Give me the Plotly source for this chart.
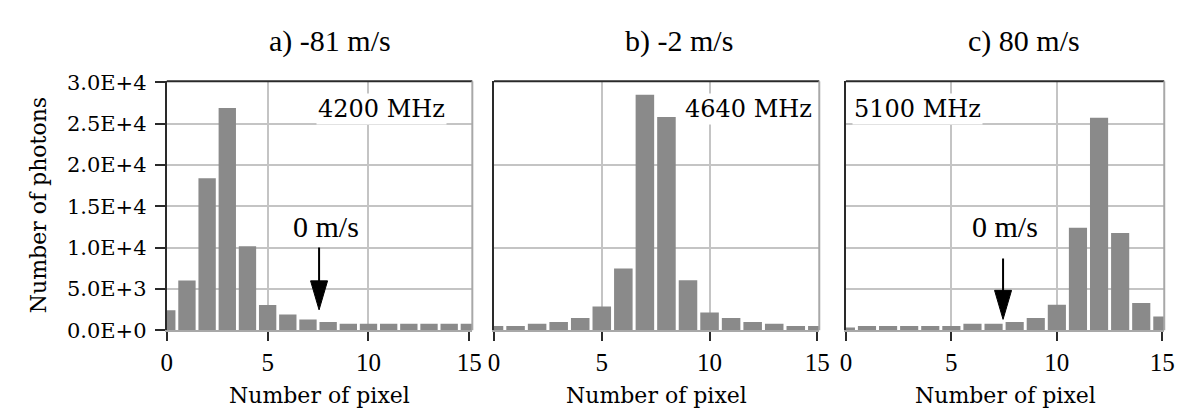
import plotly.graph_objects as go

# ---------------- data ----------------
pixels = list(range(16))
counts_a = [2400, 6000, 18400, 26900, 10150, 3050, 1900, 1280, 1000, 780, 780, 780, 780, 780, 780, 780]
counts_b = [510, 510, 780, 1000, 1470, 2880, 7450, 28500, 25800, 6050, 2150, 1470, 1000, 780, 510, 510]
counts_c = [320, 510, 510, 510, 510, 510, 780, 780, 1000, 1470, 3070, 12400, 25700, 11750, 3300, 1660]

panel_titles = ["a) -81 m/s", "b) -2 m/s", "c) 80 m/s"]
freq_labels = ["4200 MHz", "4640 MHz", "5100 MHz"]
x_tick_vals = [0, 5, 10, 15]
y_tick_vals = [0, 5000, 10000, 15000, 20000, 25000, 30000]
y_tick_text = ["0.0E+0", "5.0E+3", "1.0E+4", "1.5E+4", "2.0E+4", "2.5E+4", "3.0E+4"]
x_title = "Number of pixel"
y_title = "Number of photons"
zero_label = "0 m/s"

# ---------------- layout helpers ----------------
W, H = 1184, 414
def fx(px):
    return px / W
def fy(py):
    return 1 - py / H

x_dom_px = [(155, 465), (487, 817), (844, 1167)]
x_rng = [[0, 15.147], [0, 15.09], [0, 15.09]]
y_dom = [fy(329.5), fy(66)]
y_rng = [0, 30114]
grid_y = [[5000, 10000, 15000, 20000, 25000], [10000, 20000], [5000, 10000, 15000, 20000, 25000]]
title_cx = [321, 675, 1025]
freq_cx = [373, 745, 917]

BAR = "#8a8a8a"
GRID = "#c4c4c4"
DARK = "#2a2a2a"
LIGHT = "#a8a8a8"

fig = go.Figure()
series = [counts_a, counts_b, counts_c]
for i, vals in enumerate(series):
    sfx = "" if i == 0 else str(i + 1)
    fig.add_trace(go.Bar(
        x=pixels, y=vals, width=0.86,
        marker=dict(color=BAR, line=dict(width=0)),
        xaxis="x" + sfx, yaxis="y" + sfx, showlegend=False, hoverinfo="x+y",
    ))

layout = dict(
    width=W, height=H, autosize=False,
    margin=dict(l=0, r=0, t=0, b=0),
    paper_bgcolor="white", plot_bgcolor="white",
    font=dict(family="DejaVu Serif", color="black", size=20),
    bargap=0.14,
)

shapes = []
annotations = []
for i in range(3):
    sfx = "" if i == 0 else str(i + 1)
    x0, x1 = x_dom_px[i]
    layout["xaxis" + sfx] = dict(
        domain=[fx(x0), fx(x1)], range=x_rng[i], anchor="y" + sfx,
        tickmode="array", tickvals=x_tick_vals, ticktext=[str(v) for v in x_tick_vals],
        ticks="outside", ticklen=9, tickwidth=2, tickcolor=DARK,
        showgrid=False, zeroline=False,
        showline=True, linecolor=LIGHT, linewidth=2,
        tickfont=dict(family="Liberation Serif", size=25, color="black"),
        ticklabelstandoff=0,
        minor=dict(tickmode="array", tickvals=[5, 10], showgrid=True, gridcolor=GRID, gridwidth=2, ticks=""),
        fixedrange=True,
    )
    ydict = dict(
        domain=y_dom, range=y_rng, anchor="x" + sfx,
        showgrid=False, zeroline=False,
        showline=True, linecolor=DARK, linewidth=2,
        minor=dict(tickmode="array", tickvals=grid_y[i], showgrid=True, gridcolor=GRID, gridwidth=2, ticks=""),
        fixedrange=True,
    )
    if i == 0:
        ydict.update(
            tickmode="array", tickvals=y_tick_vals, ticktext=y_tick_text,
            ticks="outside", ticklen=10, tickwidth=2, tickcolor=DARK,
            tickfont=dict(family="DejaVu Serif", size=21, color="black"),
            ticklabelstandoff=4,
        )
    else:
        ydict.update(showticklabels=False, ticks="")
    layout["yaxis" + sfx] = ydict

    # top (dark) and right (light) frame lines
    shapes.append(dict(type="line", xref="x" + sfx + " domain", yref="y" + sfx + " domain",
                       x0=0, x1=1, y0=1, y1=1, line=dict(color=DARK, width=2), layer="above"))
    shapes.append(dict(type="line", xref="x" + sfx + " domain", yref="y" + sfx + " domain",
                       x0=1, x1=1, y0=0, y1=1, line=dict(color=LIGHT, width=2), layer="above"))

    # panel title
    annotations.append(dict(text=panel_titles[i], xref="paper", yref="paper",
                            x=fx(title_cx[i]), y=fy(23), xanchor="center", yanchor="middle",
                            showarrow=False, font=dict(family="Liberation Serif", size=30, color="black")))
    # frequency label with white box
    annotations.append(dict(text=freq_labels[i], xref="paper", yref="paper",
                            x=fx(freq_cx[i]), y=fy(95), xanchor="center", yanchor="middle",
                            showarrow=False, bgcolor="white", borderpad=1,
                            font=dict(family="DejaVu Serif", size=24, color="black")))
    # x axis title
    annotations.append(dict(text=x_title, xref="paper", yref="paper",
                            x=fx((x0 + x1) / 2), y=fy(399), xanchor="center", yanchor="middle",
                            showarrow=False, font=dict(family="DejaVu Serif", size=22, color="black")))

# y axis title
annotations.append(dict(text=y_title, xref="paper", yref="paper", x=fx(25), y=fy(197.5),
                        xanchor="center", yanchor="middle", textangle=-90, showarrow=False,
                        font=dict(family="DejaVu Serif", size=22, color="black")))

# "0 m/s" markers in panels a and c: (axis suffix, text x, arrow x, tail y, tip y)
zero_marks = [("", 7.9, 7.55, 10200, 2460), ("3", 7.52, 7.45, 8860, 1310)]
for sfx, tx, axx, tail, tip in zero_marks:
    annotations.append(dict(text=zero_label, xref="x" + sfx, yref="y" + sfx, x=tx, y=12500,
                            xanchor="center", yanchor="middle", showarrow=False,
                            font=dict(family="Liberation Serif", size=30, color="black")))
    annotations.append(dict(text="", xref="x" + sfx, yref="y" + sfx, x=axx, y=tip + 2000,
                            axref="x" + sfx, ayref="y" + sfx, ax=axx, ay=tail,
                            showarrow=True, arrowhead=0, arrowwidth=2, arrowcolor="black"))
    shapes.append(dict(type="path", xref="x" + sfx, yref="y" + sfx,
                       xsizemode="pixel", ysizemode="pixel", xanchor=axx, yanchor=tip,
                       path="M-8.5,29 L8.5,29 L0,0 Z",
                       fillcolor="black", line=dict(color="black", width=1), layer="above"))

layout["shapes"] = shapes
layout["annotations"] = annotations
fig.update_layout(**layout)

fig.write_html("out.html")
